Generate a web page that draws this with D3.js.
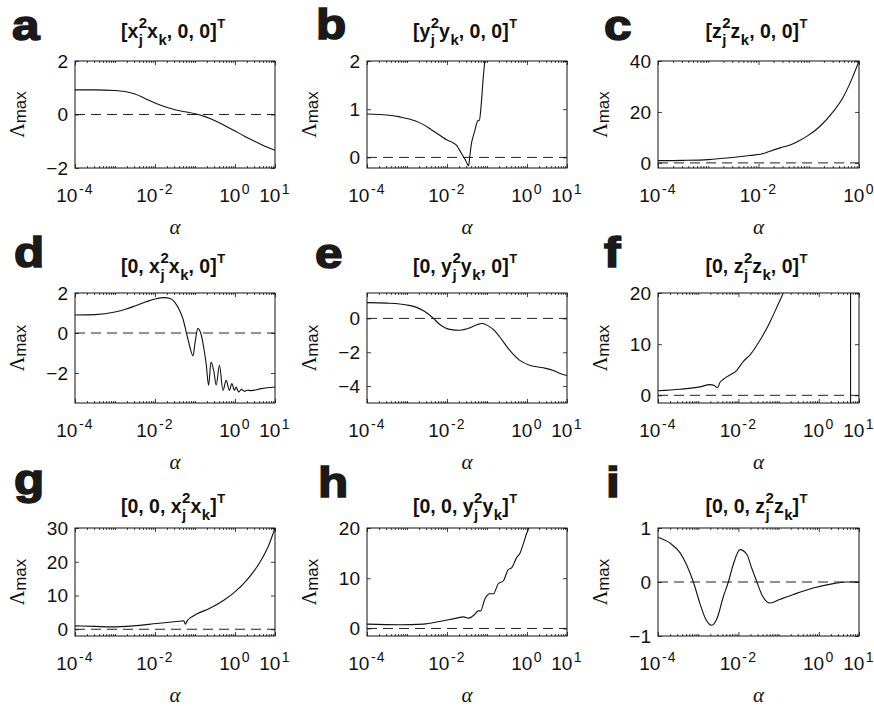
<!DOCTYPE html>
<html>
<head>
<meta charset="utf-8">
<script src="https://cdn.jsdelivr.net/npm/d3@7"></script>
<style>
  body { margin: 0; background: #fff; }
  svg { display: block; }
</style>
</head>
<body>
<svg id="fig" width="874" height="706"></svg>
<script>
// ---------------------------------------------------------------
// Largest Lyapunov-type exponent Λmax versus coupling α for nine
// coupling schemes. Each curve is a list of [log10(α), Λmax].
// ---------------------------------------------------------------
const lamA = [[-4, 0.92], [-3.5, 0.92], [-3, 0.9], [-2.75, 0.86], [-2.5, 0.77], [-2.25, 0.6],
  [-2, 0.43], [-1.75, 0.29], [-1.5, 0.18], [-1.25, 0.1], [-1, 0.03], [-0.75, -0.08],
  [-0.5, -0.23], [-0.25, -0.42], [0, -0.62], [0.25, -0.82], [0.5, -1.01], [0.75, -1.19], [1, -1.34]];

const lamB = [[-4, 0.9], [-3.5, 0.88], [-3.18, 0.84], [-2.8, 0.76], [-2.59, 0.68], [-2.4, 0.58],
  [-2.18, 0.46], [-2.0, 0.36], [-1.84, 0.3], [-1.75, 0.24], [-1.68, 0.14], [-1.6, 0.03],
  [-1.55, -0.04], [-1.49, -0.14], [-1.46, -0.17], [-1.43, 0.02], [-1.39, 0.28], [-1.34, 0.45],
  [-1.3, 0.57], [-1.26, 0.7], [-1.23, 0.76], [-1.19, 0.77], [-1.16, 0.95], [-1.13, 1.25],
  [-1.1, 1.6], [-1.06, 1.95], [-1.02, 2.3]];

const lamC = [[-4, 0.9], [-3.5, 1.0], [-3.0, 1.3], [-2.57, 2.0], [-2.17, 2.9], [-1.94, 3.5],
  [-1.85, 4.0], [-1.77, 4.6], [-1.57, 5.9], [-1.37, 7.0], [-1.2, 8.6], [-1.04, 10.4],
  [-0.78, 14.3], [-0.51, 20.2], [-0.31, 26], [-0.15, 32.6], [0, 40]];

const lamD = [[-4, 0.9], [-3.5, 0.92], [-3, 1.05], [-2.72, 1.2], [-2.47, 1.38], [-2.22, 1.56],
  [-2.0, 1.7], [-1.76, 1.77], [-1.62, 1.72], [-1.5, 1.52], [-1.39, 1.15], [-1.3, 0.7],
  [-1.22, 0.05], [-1.14, -0.6], [-1.05, -1.14], [-1.0, -0.5], [-0.93, 0.22], [-0.85, -0.05],
  [-0.78, -0.75], [-0.72, -1.55], [-0.66, -2.62], [-0.6, -1.45], [-0.53, -1.9], [-0.47, -2.6],
  [-0.39, -1.62], [-0.3, -2.87], [-0.22, -2.37], [-0.14, -2.87], [-0.08, -2.53], [-0.01, -2.87],
  [0.03, -2.7], [0.09, -2.95], [0.16, -2.82], [0.24, -2.92], [0.3, -2.86], [0.4, -2.88],
  [0.66, -2.78], [1.0, -2.7]];

const lamE = [[-4, 0.93], [-3.5, 0.9], [-3.18, 0.85], [-2.95, 0.77], [-2.76, 0.65], [-2.6, 0.47],
  [-2.51, 0.33], [-2.34, 0], [-2.18, -0.36], [-2.05, -0.55], [-1.93, -0.65], [-1.68, -0.7],
  [-1.43, -0.56], [-1.25, -0.38], [-1.13, -0.3], [-0.93, -0.5], [-0.8, -0.75], [-0.68, -1.1],
  [-0.43, -1.89], [-0.18, -2.48], [0.08, -2.78], [0.41, -2.92], [0.66, -3.08], [0.83, -3.26],
  [1.0, -3.38]];

const lamF = [[-4, 0.9], [-3.45, 1.2], [-2.96, 1.65], [-2.71, 2.1], [-2.6, 1.9], [-2.52, 1.5],
  [-2.46, 2.5], [-2.38, 3.1], [-2.29, 3.6], [-2.04, 4.9], [-1.88, 6.6], [-1.71, 7.9],
  [-1.46, 10.8], [-1.21, 14.4], [-1.0, 18.0], [-0.88, 20.1], [-0.8, 22]];
// branch of the f curve that returns through the whole range near α ≈ 6
const lamFBranch = [[0.79, 21], [0.79, -2]];

const lamG = [[-4, 1.0], [-3.5, 0.85], [-3.13, 0.7], [-2.54, 1.0], [-1.96, 1.7], [-1.46, 2.3],
  [-1.28, 2.5], [-1.24, 1.5], [-1.2, 2.4], [-1.1, 3.5], [-0.96, 4.5], [-0.63, 6.2],
  [-0.29, 8.5], [-0.04, 10.7], [0.29, 14.5], [0.63, 20], [0.83, 24.5], [1.0, 30]];

const lamH = [[-4, 0.86], [-3.18, 0.73], [-2.59, 0.86], [-2.18, 1.4], [-1.76, 2.06], [-1.59, 2.3],
  [-1.46, 2.06], [-1.3, 2.86], [-1.22, 3.5], [-1.16, 3.5], [-1.05, 5.9], [-0.93, 6.9],
  [-0.84, 6.9], [-0.72, 8.9], [-0.59, 9.5], [-0.47, 11.7], [-0.38, 12.1], [-0.26, 14.1],
  [-0.18, 14.9], [-0.09, 16.9], [-0.01, 18.9], [0.06, 20.3], [0.12, 22]];

const lamI = [[-4, 0.83], [-3.7, 0.72], [-3.45, 0.54], [-3.29, 0.32], [-3.12, 0], [-2.96, -0.39],
  [-2.83, -0.66], [-2.66, -0.8], [-2.54, -0.69], [-2.37, -0.26], [-2.25, 0], [-2.13, 0.32],
  [-1.96, 0.6], [-1.79, 0.51], [-1.67, 0.26], [-1.54, 0], [-1.42, -0.23], [-1.21, -0.39],
  [-0.96, -0.32], [-0.63, -0.23], [-0.14, -0.11], [0.36, -0.03], [0.69, 0], [1.0, 0]];

// panel letters and titles (tokens: plain text, or stacked super/subscripts)
const panelLetters = ["a", "b", "c", "d", "e", "f", "g", "h", "i"];
const titleA = [{t: "[x"}, {sup: "2", sub: "j"}, {t: "x"}, {sub: "k"}, {t: ", 0, 0]"}, {sup: "T"}];
const titleB = [{t: "[y"}, {sup: "2", sub: "j"}, {t: "y"}, {sub: "k"}, {t: ", 0, 0]"}, {sup: "T"}];
const titleC = [{t: "[z"}, {sup: "2", sub: "j"}, {t: "z"}, {sub: "k"}, {t: ", 0, 0]"}, {sup: "T"}];
const titleD = [{t: "[0, x"}, {sup: "2", sub: "j"}, {t: "x"}, {sub: "k"}, {t: ", 0]"}, {sup: "T"}];
const titleE = [{t: "[0, y"}, {sup: "2", sub: "j"}, {t: "y"}, {sub: "k"}, {t: ", 0]"}, {sup: "T"}];
const titleF = [{t: "[0, z"}, {sup: "2", sub: "j"}, {t: "z"}, {sub: "k"}, {t: ", 0]"}, {sup: "T"}];
const titleG = [{t: "[0, 0, x"}, {sup: "2", sub: "j"}, {t: "x"}, {sub: "k"}, {t: "]"}, {sup: "T"}];
const titleH = [{t: "[0, 0, y"}, {sup: "2", sub: "j"}, {t: "y"}, {sub: "k"}, {t: "]"}, {sup: "T"}];
const titleI = [{t: "[0, 0, z"}, {sup: "2", sub: "j"}, {t: "z"}, {sub: "k"}, {t: "]"}, {sup: "T"}];

// axis limits and tick labels
const xExpFull = [-4, 1];
const xExpShort = [-4, 0];
const xTickExpFull = [-4, -2, 0, 1];
const xTickExpShort = [-4, -2, 0];
const yDomA = [-2, 2],    yTicksA = [-2, 0, 2];
const yDomB = [-0.22, 2], yTicksB = [0, 1, 2];
const yDomC = [-2, 40],   yTicksC = [0, 20, 40];
const yDomD = [-3.5, 2],  yTicksD = [-2, 0, 2];
const yDomE = [-5, 1.5],  yTicksE = [-4, -2, 0];
const yDomF = [-1.5, 20], yTicksF = [0, 10, 20];
const yDomG = [-2, 30],   yTicksG = [0, 10, 20, 30];
const yDomH = [-1.5, 20], yTicksH = [0, 10, 20];
const yDomI = [-1, 1],    yTicksI = [-1, 0, 1];

// ---------------------------------------------------------------
// layout
// ---------------------------------------------------------------
const colLeft = [75, 367, 658];
const colRight = [275, 567, 859];
const rowTop = [61, 293, 528];
const rowBottom = [168, 403, 636];
const titleBase = [38, 273, 513];
const letterPos = [[12, 40], [316, 39], [604, 40], [14, 267], [315, 268], [604, 267], [14, 494], [318, 497], [606, 497]];

const panels = [
  {curves: [lamA], title: titleA, xe: xExpFull, xt: xTickExpFull, yd: yDomA, yt: yTicksA},
  {curves: [lamB], title: titleB, xe: xExpFull, xt: xTickExpFull, yd: yDomB, yt: yTicksB},
  {curves: [lamC], title: titleC, xe: xExpShort, xt: xTickExpShort, yd: yDomC, yt: yTicksC},
  {curves: [lamD], title: titleD, xe: xExpFull, xt: xTickExpFull, yd: yDomD, yt: yTicksD},
  {curves: [lamE], title: titleE, xe: xExpFull, xt: xTickExpFull, yd: yDomE, yt: yTicksE},
  {curves: [lamF, lamFBranch], title: titleF, xe: xExpFull, xt: xTickExpFull, yd: yDomF, yt: yTicksF},
  {curves: [lamG], title: titleG, xe: xExpFull, xt: xTickExpFull, yd: yDomG, yt: yTicksG},
  {curves: [lamH], title: titleH, xe: xExpFull, xt: xTickExpFull, yd: yDomH, yt: yTicksH},
  {curves: [lamI], title: titleI, xe: xExpFull, xt: xTickExpFull, yd: yDomI, yt: yTicksI}
];

const SANS = "'Liberation Sans', Arial, Helvetica, sans-serif";
const SERIF = "'Liberation Serif', 'Times New Roman', serif";
const INK = "#111";

const svg = d3.select("#fig").attr("font-family", SANS);
svg.append("rect").attr("width", 874).attr("height", 706).attr("fill", "#fff");

function drawTitle(parent, tokens, cx, base) {
  const t = parent.append("g").attr("font-weight", "bold").attr("fill", INK);
  let cur = 0;
  tokens.forEach(tok => {
    if (tok.t !== undefined) {
      const el = t.append("text").attr("x", cur).attr("y", base)
        .attr("font-size", 19.5).text(tok.t);
      cur += el.node().getComputedTextLength();
    } else {
      let w = 0;
      if (tok.sup) {
        const isT = tok.sup === "T";
        const el = t.append("text").attr("x", cur + 0.5).attr("y", base - 10)
          .attr("font-size", isT ? 13 : 15).text(tok.sup);
        w = Math.max(w, el.node().getComputedTextLength() + 0.5);
      }
      if (tok.sub) {
        const el = t.append("text").attr("x", cur + 0.5).attr("y", base + 7)
          .attr("font-size", 15).text(tok.sub);
        w = Math.max(w, el.node().getComputedTextLength() + 0.5);
      }
      cur += w;
    }
  });
  t.attr("transform", `translate(${cx - cur / 2},0)`);
}

panels.forEach((p, i) => {
  const col = i % 3, row = Math.floor(i / 3);
  const L = colLeft[col], R = colRight[col], T = rowTop[row], B = rowBottom[row];
  const g = svg.append("g");

  const x = d3.scaleLog().domain([10 ** p.xe[0], 10 ** p.xe[1]]).range([L, R]);
  const y = d3.scaleLinear().domain(p.yd).range([B, T]);

  const clipId = "clip" + i;
  g.append("clipPath").attr("id", clipId)
    .append("rect").attr("x", L).attr("y", T).attr("width", R - L).attr("height", B - T);

  // zero reference
  g.append("line")
    .attr("x1", L).attr("x2", R).attr("y1", y(0)).attr("y2", y(0))
    .attr("stroke", "#222").attr("stroke-width", 1).attr("stroke-dasharray", "10,6");

  // curves
  const line = d3.line()
    .x(d => x(10 ** d[0]))
    .y(d => y(d[1]))
    .curve(d3.curveMonotoneX);
  const lineStraight = d3.line().x(d => x(10 ** d[0])).y(d => y(d[1]));
  p.curves.forEach(c => {
    const vertical = c.length === 2 && c[0][0] === c[1][0];
    g.append("path")
      .attr("clip-path", `url(#${clipId})`)
      .attr("d", vertical ? lineStraight(c) : line(c))
      .attr("fill", "none").attr("stroke", INK).attr("stroke-width", 1.1)
      .attr("stroke-linejoin", "round");
  });

  // ticks: major at labelled decades, minor elsewhere
  const majors = p.xt.map(e => 10 ** e);
  const minors = [];
  for (let e = p.xe[0]; e < p.xe[1]; e++) {
    for (let m = 1; m <= 9; m++) {
      const v = m * 10 ** e;
      if (!p.xt.includes(e) || m !== 1) minors.push(v);
    }
  }
  const tickStyle = sel => {
    sel.select(".domain").remove();
    sel.selectAll("line").attr("stroke", INK).attr("stroke-width", 0.8);
  };
  g.append("g").attr("transform", `translate(0,${B})`)
    .call(d3.axisBottom(x).tickValues(majors).tickSize(-4).tickFormat(""))
    .call(tickStyle);
  g.append("g").attr("transform", `translate(0,${T})`)
    .call(d3.axisTop(x).tickValues(majors).tickSize(-4).tickFormat(""))
    .call(tickStyle);
  g.append("g").attr("transform", `translate(0,${B})`)
    .call(d3.axisBottom(x).tickValues(minors).tickSize(-2).tickFormat(""))
    .call(tickStyle);
  g.append("g").attr("transform", `translate(0,${T})`)
    .call(d3.axisTop(x).tickValues(minors).tickSize(-2).tickFormat(""))
    .call(tickStyle);

  // y axis with labels on the left, inner ticks on both sides
  const yl = g.append("g").attr("transform", `translate(${L},0)`)
    .call(d3.axisLeft(y).tickValues(p.yt).tickSize(-4).tickPadding(7).tickFormat(d3.format("d")))
    .call(tickStyle);
  yl.attr("font-family", SANS).attr("font-size", 19);
  yl.selectAll("text").attr("fill", INK).attr("dy", "0.34em");
  g.append("g").attr("transform", `translate(${R},0)`)
    .call(d3.axisRight(y).tickValues(p.yt).tickSize(-4).tickFormat(""))
    .call(tickStyle);

  // x tick labels 10^n
  p.xt.forEach(e => {
    const tx = g.append("text")
      .attr("x", x(10 ** e)).attr("y", B + 34)
      .attr("text-anchor", "middle").attr("font-size", 19).attr("fill", INK);
    tx.append("tspan").text("10");
    tx.append("tspan").attr("dy", -8).attr("dx", 1.5).attr("font-size", 14)
      .attr("letter-spacing", 1.2).text(String(e));
  });

  // frame
  g.append("rect").attr("x", L).attr("y", T).attr("width", R - L).attr("height", B - T)
    .attr("fill", "none").attr("stroke", INK).attr("stroke-width", 1);

  // axis titles
  g.append("text")
    .attr("x", (L + R) / 2).attr("y", B + 66)
    .attr("text-anchor", "middle").attr("font-family", SERIF).attr("font-style", "italic")
    .attr("font-size", 21).attr("fill", INK).text("α");

  const yc = (T + B) / 2;
  const ylab = g.append("text")
    .attr("transform", `translate(${L - 51},${yc}) rotate(-90)`)
    .attr("text-anchor", "middle").attr("fill", INK);
  ylab.append("tspan").attr("font-family", SERIF).attr("font-size", 20).text("Λ");
  ylab.append("tspan").attr("font-family", SANS).attr("font-size", 17).attr("dy", 2).text("max");

  // plot title and panel letter
  drawTitle(g, p.title, (L + R) / 2 - 2, titleBase[row]);
  g.append("text")
    .attr("transform", `translate(${letterPos[i][0]},${letterPos[i][1]}) scale(1.15,1)`)
    .attr("font-size", 43).attr("font-weight", "bold")
    .attr("fill", "#1a1a1a").attr("stroke", "#1a1a1a").attr("stroke-width", 1.6)
    .text(panelLetters[i]);
});
</script>
</body>
</html>
